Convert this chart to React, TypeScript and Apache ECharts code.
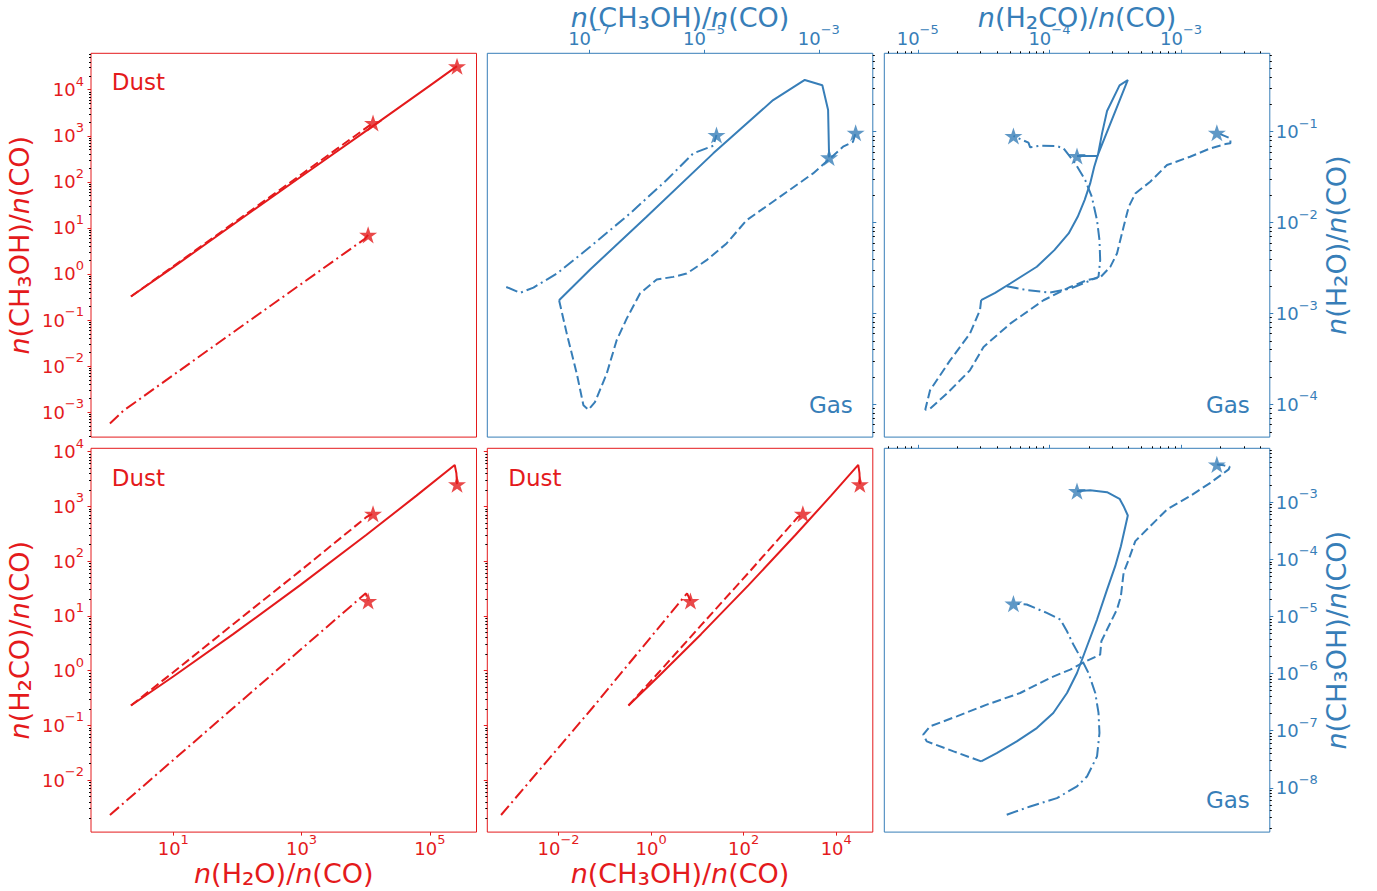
import React, { useEffect, useRef } from 'react';
import * as echarts from 'echarts';

const RED = '#e41a1c';
const BLUE = '#377eb8';
const FONT = 'DejaVu Sans';

// ---------- tick values ----------
const dustH2OTicks = [1e1, 1e3, 1e5];
const dustCH3OHTicksY = [1e-3, 1e-2, 1e-1, 1e0, 1e1, 1e2, 1e3, 1e4];
const dustCH3OHTicksX = [1e-2, 1e0, 1e2, 1e4];
const dustH2COTicks = [1e-2, 1e-1, 1e0, 1e1, 1e2, 1e3, 1e4];
const gasCH3OHTicksX = [1e-7, 1e-5, 1e-3];
const gasCH3OHTicksY = [1e-8, 1e-7, 1e-6, 1e-5, 1e-4, 1e-3];
const gasH2OTicks = [1e-4, 1e-3, 1e-2, 1e-1];
const gasH2COTicks = [1e-5, 1e-4, 1e-3];

// ---------- axis extents ----------
const dustH2OExtent = [0.522, 5.33e5];
const dustCH3OHExtent = [2.88e-4, 6.17e4];
const dustH2COExtent = [1.12e-3, 1.148e4];
const gasCH3OHExtent = [1.68e-9, 8.71e-3];
const gasH2OExtent = [4.37e-5, 0.729];
const gasH2COExtent = [5.57e-6, 4.72e-3];

// ---------- Dust: CH3OH vs H2O (top-left) ----------
const dustCH3OHvsH2O_solid = [[2.19, 0.324], [10, 1.41], [100, 13.8], [1000, 132], [1e4, 1259], [1e5, 1.23e4], [2.65e5, 3.24e4]];
const dustCH3OHvsH2O_dashed = [[2.19, 0.324], [10, 1.47], [100, 14.7], [1000, 146], [1.30e4, 1.90e3]];
const dustCH3OHvsH2O_dashdot = [[1.03, 5.71e-4], [1.66, 1.07e-3], [100, 0.0631], [9.68e3, 5.79], [1.09e4, 7.08]];

// ---------- Dust: H2CO vs H2O (bottom-left) ----------
const dustH2COvsH2O_solid = [[2.19, 0.23], [10, 0.778], [85.9, 4.62], [940, 36.0], [1.028e4, 302], [6.18e4, 1567], [2.44e5, 5.7e3], [2.59e5, 4.03e3], [2.65e5, 2.54e3]];
const dustH2COvsH2O_dashed = [[2.19, 0.23], [10, 0.931], [85.9, 7.03], [940, 65.5], [1.028e4, 638], [1.30e4, 733]];
const dustH2COvsH2O_dashdot = [[1.03, 2.3e-3], [85.9, 0.207], [1.0e4, 25.8], [1.09e4, 18.7]];

// ---------- Dust: H2CO vs CH3OH (bottom-middle) ----------
const dustH2COvsCH3OH_solid = [[0.324, 0.23], [1.44, 0.778], [12.0, 4.62], [126, 36.0], [1324, 302], [7.74e3, 1567], [2.99e4, 5.7e3], [3.18e4, 4.03e3], [3.24e4, 2.54e3]];
const dustH2COvsCH3OH_dashed = [[0.324, 0.23], [1.47, 0.931], [12.6, 7.03], [137, 65.5], [1.49e3, 638], [1.90e3, 733]];
const dustH2COvsCH3OH_dashdot = [[5.71e-4, 2.3e-3], [0.0535, 0.207], [5.98, 25.8], [7.08, 18.7]];

// ---------- Gas: H2O vs CH3OH (top-middle) ----------
const gasH2OvsCH3OH_solid = [[2.99e-8, 1.4e-3], [1.04e-7, 3.05e-3], [1.0e-6, 1.16e-2], [1.45e-5, 5.78e-2], [1.6e-4, 0.223], [5.69e-4, 0.371], [1.15e-3, 0.324], [1.45e-3, 0.173], [1.51e-3, 5.22e-2]];
const gasH2OvsCH3OH_dashed = [[2.99e-8, 1.4e-3], [4.07e-8, 6.01e-4], [6.08e-8, 2.18e-4], [7.94e-8, 9.77e-5], [9.7e-8, 8.75e-5], [1.26e-7, 1.06e-4], [2.02e-7, 2.18e-4], [3.01e-7, 5.08e-4], [4.5e-7, 8.79e-4], [7.67e-7, 1.66e-3], [1.5e-6, 2.37e-3], [2.92e-6, 2.53e-3], [4.98e-6, 2.75e-3], [1.11e-5, 3.86e-3], [2.47e-5, 5.9e-3], [5.5e-5, 1.06e-2], [2.09e-4, 1.92e-2], [7.94e-4, 3.48e-2], [1.51e-3, 4.97e-2], [2.64e-3, 6.84e-2], [3.94e-3, 7.76e-2], [4.38e-3, 9.75e-2]];
const gasH2OvsCH3OH_dashdot = [[3.59e-9, 1.96e-3], [6.28e-9, 1.69e-3], [1.07e-8, 1.93e-3], [2.73e-8, 2.75e-3], [1.04e-7, 5.42e-3], [5.14e-7, 1.26e-2], [2.23e-6, 2.94e-2], [6.49e-6, 5.78e-2], [1.45e-5, 7.01e-2], [1.65e-5, 9.2e-2]];

// ---------- Gas: H2O vs H2CO (top-right) ----------
const gasH2OvsH2CO_solid = [[3.03e-5, 1.4e-3], [3.87e-5, 1.69e-3], [5.04e-5, 2.14e-3], [8.02e-5, 3.27e-3], [1.09e-4, 4.98e-3], [1.4e-4, 7.6e-3], [1.64e-4, 1.16e-2], [1.85e-4, 1.77e-2], [2.04e-4, 2.7e-2], [2.19e-4, 4.12e-2], [2.33e-4, 5.53e-2], [3.94e-4, 0.371], [3.41e-4, 0.324], [2.74e-4, 0.169], [2.51e-4, 9.59e-2], [2.33e-4, 5.44e-2], [1.62e-4, 5.4e-2]];
const gasH2OvsH2CO_dashed = [[3.03e-5, 1.4e-3], [2.97e-5, 1.09e-3], [2.49e-5, 6.01e-4], [1.76e-5, 3.05e-4], [1.24e-5, 1.43e-4], [1.14e-5, 8.75e-5], [1.24e-5, 8.97e-5], [1.66e-5, 1.31e-4], [2.49e-5, 2.37e-4], [3.16e-5, 4.29e-4], [5.04e-5, 7.74e-4], [9.02e-5, 1.4e-3], [1.44e-4, 1.96e-3], [1.93e-4, 2.33e-3], [2.43e-4, 2.49e-3], [2.9e-4, 3.26e-3], [3.26e-4, 4.57e-3], [3.66e-4, 8.99e-3], [4.0e-4, 1.49e-2], [4.49e-4, 2.09e-2], [5.83e-4, 2.82e-2], [7.82e-4, 4.3e-2], [1.17e-3, 5.31e-2], [1.67e-3, 6.56e-2], [2.17e-3, 7.31e-2], [2.37e-3, 7.45e-2], [2.37e-3, 8.45e-2], [1.87e-3, 9.75e-2]];
const gasH2OvsH2CO_dashdot = [[4.74e-5, 2.0e-3], [6.73e-5, 1.81e-3], [1.01e-4, 1.7e-3], [1.44e-4, 1.88e-3], [1.93e-4, 2.23e-3], [2.36e-4, 2.53e-3], [2.43e-4, 3.86e-3], [2.4e-4, 6.41e-3], [2.3e-4, 1.06e-2], [2.1e-4, 1.92e-2], [1.87e-4, 2.94e-2], [1.57e-4, 4.49e-2], [1.28e-4, 6.56e-2], [1.14e-4, 6.95e-2], [8.51e-5, 7.01e-2], [7.14e-5, 6.73e-2], [6.93e-5, 7.57e-2], [5.33e-5, 8.97e-2]];

// ---------- Gas: CH3OH vs H2CO (bottom-right) ----------
const gasCH3OHvsH2CO_solid = [[3.03e-5, 2.9e-8], [3.98e-5, 4.06e-8], [5.65e-5, 6.5e-8], [8.02e-5, 1.11e-7], [1.07e-4, 2.04e-7], [1.36e-4, 4.56e-7], [1.62e-4, 1.02e-6], [1.93e-4, 3.0e-6], [2.3e-4, 8.79e-6], [2.74e-4, 2.94e-5], [3.16e-4, 7.55e-5], [3.49e-4, 1.69e-4], [3.94e-4, 5.82e-4], [3.66e-4, 8.47e-4], [3.41e-4, 1.14e-3], [2.74e-4, 1.49e-3], [2.04e-4, 1.6e-3], [1.62e-4, 1.55e-3]];
const gasCH3OHvsH2CO_dashed = [[3.03e-5, 2.9e-8], [1.87e-5, 4.35e-8], [1.17e-5, 6.5e-8], [1.1e-5, 8.51e-8], [1.24e-5, 1.19e-7], [1.98e-5, 1.78e-7], [3.34e-5, 2.85e-7], [6.0e-5, 4.56e-7], [1.01e-4, 8.36e-7], [1.44e-4, 1.17e-6], [1.82e-4, 1.57e-6], [2.43e-4, 2.14e-6], [2.48e-4, 3.66e-6], [2.9e-4, 7.67e-6], [3.26e-4, 1.32e-5], [3.49e-4, 2.25e-5], [3.66e-4, 5.77e-5], [4.0e-4, 9.86e-5], [4.49e-4, 2.07e-4], [5.83e-4, 3.78e-4], [7.82e-4, 7.41e-4], [1.17e-3, 1.27e-3], [1.67e-3, 2.17e-3], [2.3e-3, 3.72e-3], [2.34e-3, 4.14e-3], [2.11e-3, 4.38e-3], [1.87e-3, 4.55e-3]];
const gasCH3OHvsH2CO_dashdot = [[4.74e-5, 3.38e-9], [7.14e-5, 4.72e-9], [1.14e-4, 6.61e-9], [1.62e-4, 1.06e-8], [1.93e-4, 1.58e-8], [2.3e-4, 3.55e-8], [2.4e-4, 9.1e-8], [2.36e-4, 2.04e-7], [2.23e-4, 4.56e-7], [1.98e-4, 1.02e-6], [1.76e-4, 1.75e-6], [1.52e-4, 3.21e-6], [1.36e-4, 5.48e-6], [1.21e-4, 8.79e-6], [9.55e-5, 1.15e-5], [6.73e-5, 1.61e-5], [5.33e-5, 1.67e-5]];

const STAR = 'path://M50 0L61.2 34.5L97.6 34.5L68.2 55.9L79.4 90.5L50 69.1L20.6 90.5L31.8 55.9L2.4 34.5L38.8 34.5Z';
const DASH: any = { solid: 'solid', dashed: [9, 4], dashdot: [12, 4, 2, 4] };

const fmtPow = (v: number) => {
  const e = Math.round(Math.log10(v));
  return '{b|10}{s|' + String(e).replace('-', '\u2212') + '}';
};
const minorTicks = (ext: number[]) => {
  const out: number[] = [];
  const e0 = Math.floor(Math.log10(ext[0]));
  const e1 = Math.ceil(Math.log10(ext[1]));
  for (let e = e0; e <= e1; e++) {
    for (let k = 2; k <= 9; k++) {
      const v = k * Math.pow(10, e);
      if (v > ext[0] && v < ext[1]) out.push(v);
    }
  }
  return out;
};

const NAME_CH3OH = '{i|n}(CH{u|₃}OH)/{i|n}(CO)';
const NAME_H2O = '{i|n}(H{u|₂}O)/{i|n}(CO)';
const NAME_H2CO = '{i|n}(H{u|₂}CO)/{i|n}(CO)';

const LEFTS = [91, 487.3, 884.3];
const TOPS = [53.3, 448.3];
const W = 385.5;
const H = 383.8;

function buildOption() {
  const grids: any[] = [];
  const xAxes: any[] = [];
  const yAxes: any[] = [];
  const series: any[] = [];
  const xMain: number[] = [];
  const yMain: number[] = [];

  type AxSpec = {
    ext: number[];
    pos: string;
    majors?: number[];
    labels?: boolean;
    minor?: boolean;
    color: string;
    name?: string;
    nameGap?: number;
    margin?: number;
  };

  const makeAxes = (g: number, spec: AxSpec) => {
    const list: any[] = [];
    const main: any = {
      type: 'log',
      logBase: 10,
      gridIndex: g,
      min: spec.ext[0],
      max: spec.ext[1],
      position: spec.pos,
      axisLine: { show: false },
      splitLine: { show: false },
      minorTick: { show: false },
      axisTick: spec.majors
        ? { show: true, customValues: spec.majors, length: 3.5, lineStyle: { color: spec.color, width: 1 } }
        : { show: false },
      axisLabel: spec.majors && spec.labels
        ? {
            show: true,
            customValues: spec.majors,
            formatter: fmtPow,
            color: spec.color,
            fontSize: 18,
            fontFamily: FONT,
            margin: spec.margin ?? 7,
            rich: {
              b: { fontSize: 18, color: spec.color, fontFamily: FONT },
              s: { fontSize: 13, color: spec.color, fontFamily: FONT, padding: [0, 0, 17, 0] },
            },
          }
        : { show: false },
    };
    if (spec.name) {
      main.name = spec.name;
      main.nameLocation = 'middle';
      main.nameGap = spec.nameGap;
      main.nameMoveOverlap = false;
      main.nameTextStyle = {
        color: spec.color,
        fontSize: 27,
        lineHeight: 27,
        fontFamily: FONT,
        rich: {
          i: { fontStyle: 'italic', fontSize: 27, lineHeight: 27, color: spec.color, fontFamily: FONT },
          u: { fontSize: 31, lineHeight: 27, color: spec.color, fontFamily: FONT },
        },
      };
    }
    list.push(main);
    if (spec.minor) {
      list.push({
        type: 'log',
        logBase: 10,
        gridIndex: g,
        min: spec.ext[0],
        max: spec.ext[1],
        position: spec.pos,
        axisLine: { show: false },
        splitLine: { show: false },
        axisLabel: { show: false },
        axisTick: { show: true, customValues: minorTicks(spec.ext), length: 2, lineStyle: { color: '#000', width: 1 } },
      });
    }
    return list;
  };

  const panels: any[] = [
    {
      col: 0, row: 0, color: RED,
      x: { ext: dustH2OExtent, pos: 'bottom', color: RED },
      y: { ext: dustCH3OHExtent, pos: 'left', majors: dustCH3OHTicksY, labels: true, minor: true, color: RED, name: NAME_CH3OH, nameGap: 56 },
      curves: { solid: dustCH3OHvsH2O_solid, dashed: dustCH3OHvsH2O_dashed, dashdot: dustCH3OHvsH2O_dashdot },
    },
    {
      col: 1, row: 0, color: BLUE,
      x: { ext: gasCH3OHExtent, pos: 'top', majors: gasCH3OHTicksX, labels: true, color: BLUE, name: NAME_CH3OH, nameGap: 22, margin: 0 },
      y: { ext: gasH2OExtent, pos: 'right', majors: gasH2OTicks, minor: true, color: BLUE },
      curves: { solid: gasH2OvsCH3OH_solid, dashed: gasH2OvsCH3OH_dashed, dashdot: gasH2OvsCH3OH_dashdot },
    },
    {
      col: 2, row: 0, color: BLUE,
      x: { ext: gasH2COExtent, pos: 'top', majors: gasH2COTicks, labels: true, minor: true, color: BLUE, name: NAME_H2CO, nameGap: 22, margin: 0 },
      y: { ext: gasH2OExtent, pos: 'right', majors: gasH2OTicks, labels: true, minor: true, color: BLUE, name: NAME_H2O, nameGap: 53, margin: 6 },
      curves: { solid: gasH2OvsH2CO_solid, dashed: gasH2OvsH2CO_dashed, dashdot: gasH2OvsH2CO_dashdot },
    },
    {
      col: 0, row: 1, color: RED,
      x: { ext: dustH2OExtent, pos: 'bottom', majors: dustH2OTicks, labels: true, color: RED, name: NAME_H2O, nameGap: 28, margin: 1 },
      y: { ext: dustH2COExtent, pos: 'left', majors: dustH2COTicks, labels: true, minor: true, color: RED, name: NAME_H2CO, nameGap: 58 },
      curves: { solid: dustH2COvsH2O_solid, dashed: dustH2COvsH2O_dashed, dashdot: dustH2COvsH2O_dashdot },
    },
    {
      col: 1, row: 1, color: RED,
      x: { ext: dustCH3OHExtent, pos: 'bottom', majors: dustCH3OHTicksX, labels: true, color: RED, name: NAME_CH3OH, nameGap: 28, margin: 1 },
      y: { ext: dustH2COExtent, pos: 'left', majors: dustH2COTicks, minor: true, color: RED },
      curves: { solid: dustH2COvsCH3OH_solid, dashed: dustH2COvsCH3OH_dashed, dashdot: dustH2COvsCH3OH_dashdot },
    },
    {
      col: 2, row: 1, color: BLUE,
      x: { ext: gasH2COExtent, pos: 'top', majors: gasH2COTicks, minor: true, color: BLUE },
      y: { ext: gasCH3OHExtent, pos: 'right', majors: gasCH3OHTicksY, labels: true, minor: true, color: BLUE, name: NAME_CH3OH, nameGap: 53, margin: 6 },
      curves: { solid: gasCH3OHvsH2CO_solid, dashed: gasCH3OHvsH2CO_dashed, dashdot: gasCH3OHvsH2CO_dashdot },
    },
  ];
  // left y-axis of the top-left panel uses the same gap as the bottom-left one
  panels[0].y.nameGap = 58;

  panels.forEach((p, g) => {
    grids.push({
      left: LEFTS[p.col],
      top: TOPS[p.row],
      width: W,
      height: H,
      show: true,
      borderColor: p.color,
      borderWidth: 1,
      backgroundColor: 'transparent',
      containLabel: false,
      outerBoundsMode: 'none',
    });
    xMain[g] = xAxes.length;
    xAxes.push(...makeAxes(g, p.x));
    yMain[g] = yAxes.length;
    yAxes.push(...makeAxes(g, p.y));
    (['solid', 'dashed', 'dashdot'] as const).forEach((k) => {
      const data = p.curves[k];
      series.push({
        type: 'line',
        xAxisIndex: xMain[g],
        yAxisIndex: yMain[g],
        data,
        showSymbol: false,
        symbol: 'none',
        silent: true,
        z: 2,
        lineStyle: { color: p.color, width: 2, type: DASH[k] },
      });
      series.push({
        type: 'scatter',
        xAxisIndex: xMain[g],
        yAxisIndex: yMain[g],
        data: [data[data.length - 1]],
        symbol: STAR,
        symbolSize: 18,
        symbolKeepAspect: true,
        silent: true,
        z: 3,
        itemStyle: { color: p.color },
      });
    });
  });

  const label = (text: string, x: number, y: number, color: string, align: string) => ({
    type: 'text',
    x,
    y,
    silent: true,
    z: 10,
    style: { text, fill: color, font: `23px "${FONT}"`, textAlign: align, textVerticalAlign: 'middle' },
  });

  const graphic = [
    label('Dust', LEFTS[0] + 20.7, TOPS[0] + 29, RED, 'left'),
    label('Dust', LEFTS[0] + 20.7, TOPS[1] + 29.5, RED, 'left'),
    label('Dust', LEFTS[1] + 21, TOPS[1] + 29.5, RED, 'left'),
    label('Gas', LEFTS[1] + W - 20, TOPS[0] + H - 32, BLUE, 'right'),
    label('Gas', LEFTS[2] + W - 20, TOPS[0] + H - 32, BLUE, 'right'),
    label('Gas', LEFTS[2] + W - 20, TOPS[1] + H - 32, BLUE, 'right'),
  ];

  return {
    animation: false,
    backgroundColor: '#ffffff',
    textStyle: { fontFamily: FONT },
    grid: grids,
    xAxis: xAxes,
    yAxis: yAxes,
    series,
    graphic,
  };
}

export default function App() {
  const ref = useRef<HTMLDivElement>(null);
  useEffect(() => {
    document.body.style.margin = '0';
    const chart = echarts.init(ref.current as HTMLDivElement, undefined, { renderer: 'svg' });
    chart.setOption(buildOption() as any);
    return () => chart.dispose();
  }, []);
  return <div ref={ref} style={{ width: 1377, height: 891, background: '#fff' }} />;
}
